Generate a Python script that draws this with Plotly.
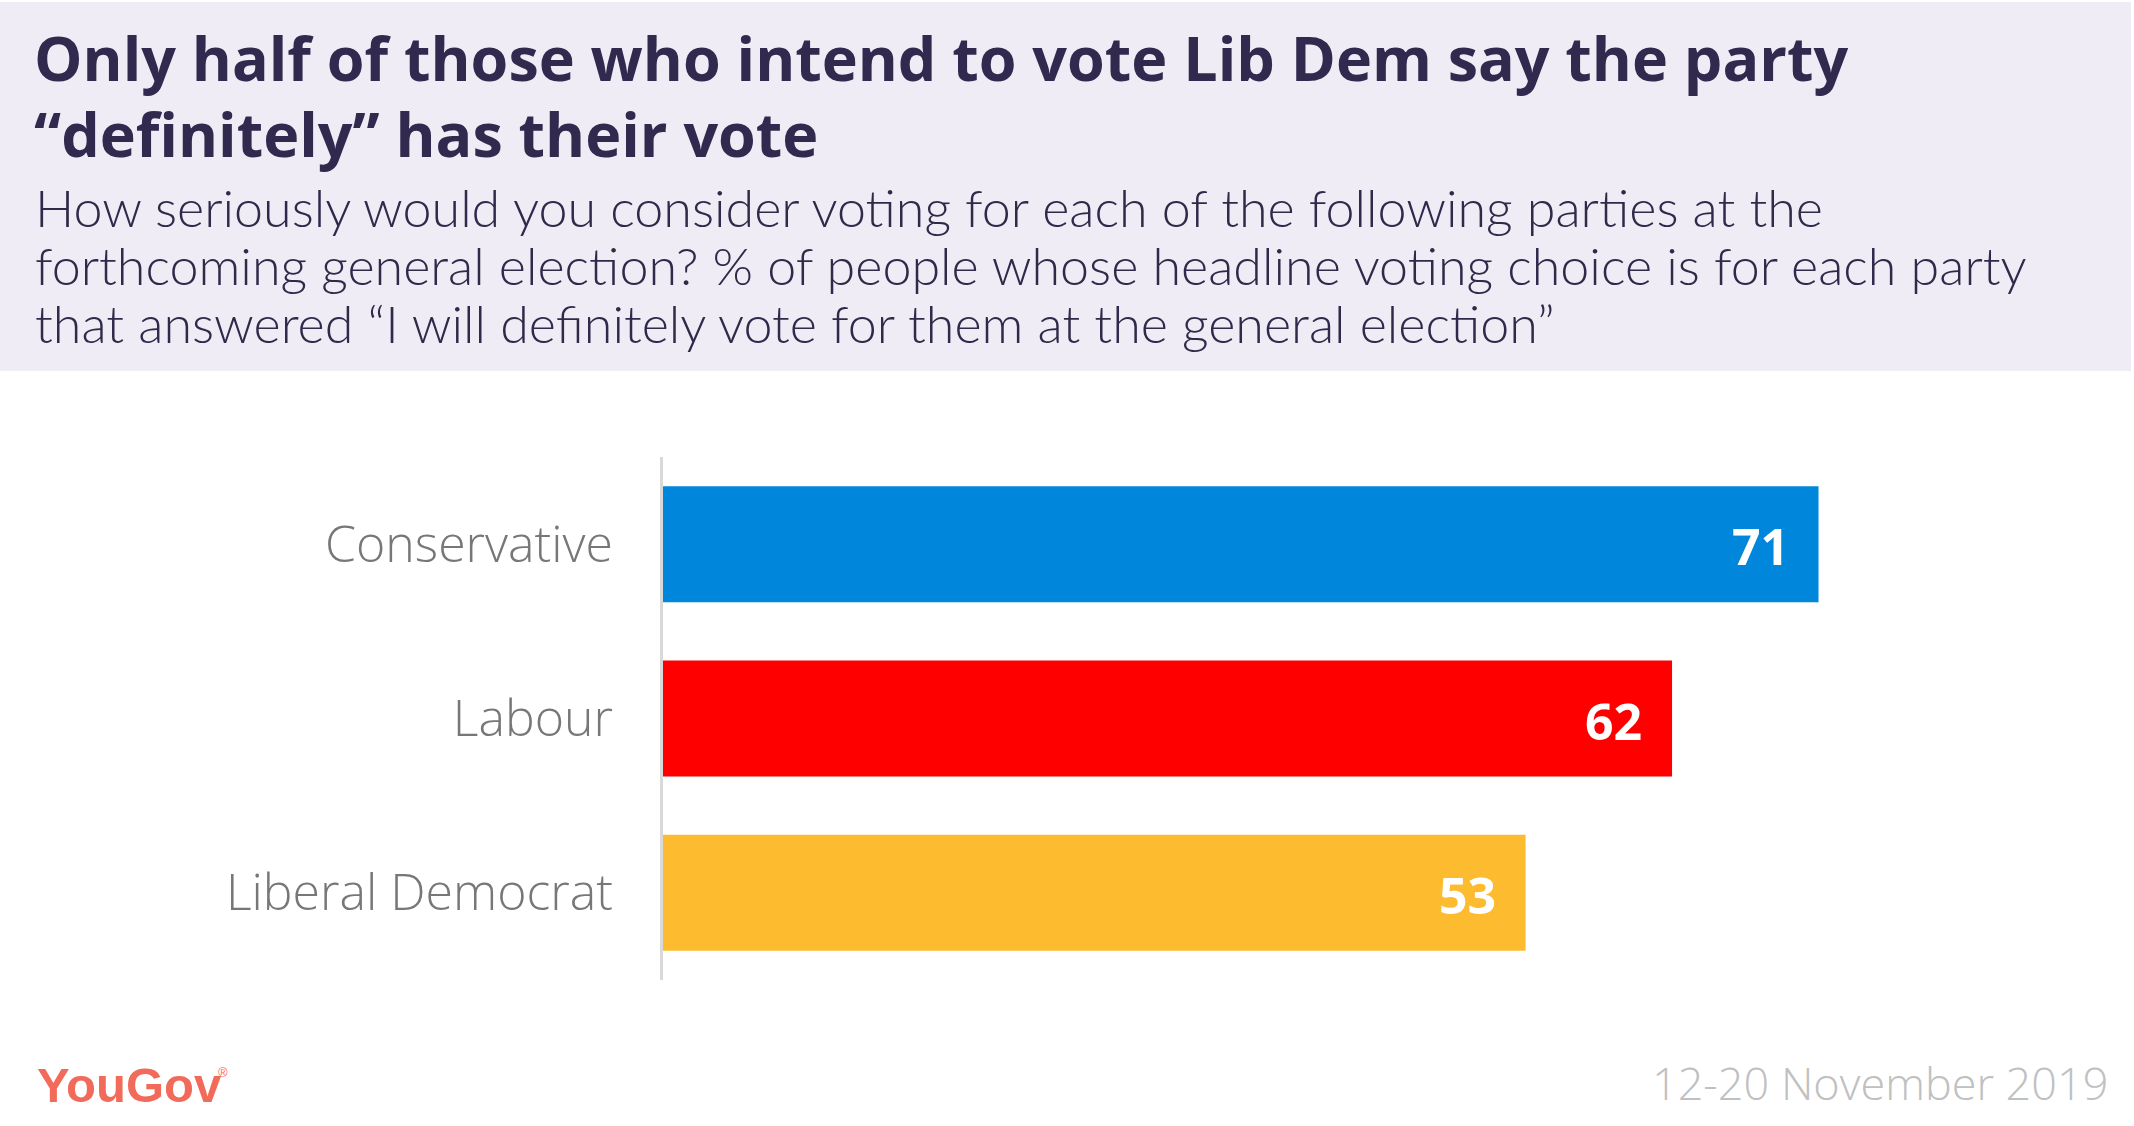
import plotly.graph_objects as go

# ---- data ----
parties = ["Conservative", "Labour", "Liberal Democrat"]
definitely_pct = [71, 62, 53]
bar_colors = ["#0087dc", "#fe0000", "#fdbb30"]

title_lines = ["Only half of those who intend to vote Lib Dem say the party",
               "“definitely” has their vote"]
subtitle_lines = ["How seriously would you consider voting for each of the following parties at the",
                  "forthcoming general election? % of people whose headline voting choice is for each party",
                  "that answered “I will definitely vote for them at the general election”"]
date_text = "12-20 November 2019"

# ---- layout geometry (pixels) ----
W, H = 2134, 1126
ML, MR, MT, MB = 663, 169, 457, 146
PW, PH = W - ML - MR, H - MT - MB


def px_x(px):
    return (px - ML) / PW


def px_y(py):
    return (H - MB - py) / PH


def text_at(txt, left_px, baseline_px, size, color, family, weight, anchor="left"):
    return dict(
        x=px_x(left_px), y=px_y(baseline_px - 0.39 * size), xref="paper", yref="paper",
        text=txt, showarrow=False, xanchor=anchor, yanchor="middle", align=anchor,
        font=dict(family=family, size=size, color=color, weight=weight),
    )


def block_at(lines, left_px, first_baseline_px, line_gap, glyph_size, color, family, weight, ascent):
    # one annotation; line spacing = 1.3 * base font size, glyphs drawn at glyph_size
    base = line_gap / 1.3
    txt = "<br>".join(f"<span style='font-size:{glyph_size}px'>{l}</span>" for l in lines)
    return dict(
        x=px_x(left_px), y=px_y(first_baseline_px - ascent * glyph_size - 2),
        xref="paper", yref="paper", text=txt, showarrow=False,
        xanchor="left", yanchor="top", align="left",
        font=dict(family=family, size=base, color=color, weight=weight),
    )


fig = go.Figure()
fig.add_trace(go.Bar(
    x=definitely_pct, y=parties, orientation="h",
    marker=dict(color=bar_colors, line=dict(width=0)),
    hoverinfo="skip",
))

annotations = []
for p, v in zip(parties, definitely_pct):
    annotations.append(dict(
        x=v, y=p, xref="x", yref="y", text=f"<b>{v}</b>", showarrow=False,
        xanchor="right", yanchor="middle", xshift=-28, yshift=-2,
        font=dict(family="Open Sans", size=50, color="white", weight=700),
    ))

annotations.append(block_at(title_lines, 32, 81, 76, 61, "#312a4e", "Open Sans", 700, 1.069))
annotations.append(block_at(subtitle_lines, 33, 227, 58, 52, "#2f2a4a", "Lato", 300, 0.987))

annotations.append(text_at("<b>YouGov</b>", 35, 1104, 49, "#f26a5a", "Liberation Sans", 700))
annotations.append(text_at("®", 216, 1078, 13, "#f26a5a", "Liberation Sans", 400))
annotations.append(text_at(date_text, 2110, 1100, 45, "#c0c0c0", "Open Sans", 300, anchor="right"))

fig.update_layout(
    width=W, height=H,
    margin=dict(l=ML, r=MR, t=MT, b=MB, pad=0),
    paper_bgcolor="white", plot_bgcolor="white",
    showlegend=False, bargap=0.335,
    xaxis=dict(range=[0, 80], showgrid=False, zeroline=False, showticklabels=False,
               showline=False, fixedrange=True),
    yaxis=dict(range=[2.5, -0.5], showgrid=False, zeroline=False, showline=True,
               linecolor="#d9d9d9", linewidth=3, ticks="", ticklabelstandoff=37,
               tickfont=dict(family="Open Sans", size=50, color="#777777", weight=300),
               fixedrange=True),
    shapes=[dict(type="rect", xref="paper", yref="paper",
                 x0=px_x(0), x1=px_x(2131), y0=px_y(371), y1=px_y(2),
                 fillcolor="#efecf5", line=dict(width=0), layer="below")],
    annotations=annotations,
)

fig.write_html("out.html", config={"displayModeBar": False},
               post_script="document.body.style.margin='0px';")
